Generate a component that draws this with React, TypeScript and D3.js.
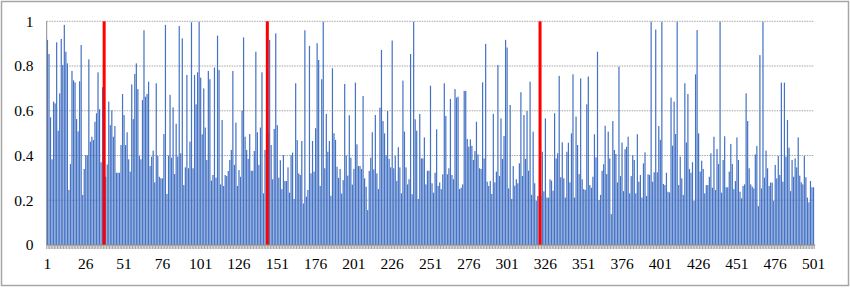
import React from "react";
import * as d3 from "d3";

const values: number[] = [
  0.917,0.854,0.571,0.383,0.641,0.633,0.906,0.511,0.678,0.921,
  0.805,0.984,0.864,0.812,0.246,0.362,0.778,0.736,0.727,0.563,
  0.508,0.732,0.894,0.224,0.340,0.402,0.400,0.830,0.462,0.484,
  0.469,0.551,0.589,0.772,0.607,0.370,0.705,0.700,0.305,0.360,
  0.641,0.536,0.602,0.484,0.532,0.323,0.323,0.323,0.447,0.675,
  0.581,0.447,0.504,0.383,0.328,0.718,0.563,0.765,0.812,0.697,
  0.398,0.383,0.648,0.960,0.663,0.675,0.730,0.353,0.395,0.422,
  0.280,0.723,0.398,0.305,0.298,0.298,0.496,0.984,0.228,0.400,
  0.671,0.390,0.615,0.317,0.542,0.395,0.979,0.410,0.924,0.268,
  0.347,0.760,0.343,0.462,0.996,0.343,0.760,0.629,0.772,0.998,
  0.748,0.495,0.700,0.525,0.380,0.778,0.741,0.288,0.313,0.793,
  0.301,0.936,0.782,0.271,0.559,0.264,0.313,0.308,0.331,0.380,
  0.425,0.778,0.358,0.547,0.264,0.335,0.305,0.600,0.928,0.484,
  0.425,0.385,0.496,0.332,0.332,0.420,0.864,0.504,0.358,0.525,
  0.772,0.231,0.425,0.500,0.500,0.917,0.447,0.294,0.519,0.946,
  0.536,0.301,0.379,0.250,0.402,0.286,0.286,0.347,0.234,0.402,
  0.413,0.206,0.723,0.469,0.320,0.313,0.465,0.186,0.960,0.216,
  0.246,0.890,0.320,0.465,0.328,0.522,0.902,0.827,0.264,0.741,
  0.998,0.343,0.586,0.417,0.465,0.220,0.790,0.500,0.470,0.350,
  0.300,0.340,0.230,0.290,0.720,0.400,0.310,0.580,0.390,0.270,
  0.340,0.726,0.450,0.353,0.353,0.340,0.666,0.298,0.260,0.156,
  0.331,0.390,0.504,0.338,0.581,0.320,0.250,0.614,0.872,0.554,
  0.499,0.402,0.599,0.385,0.347,0.914,0.343,0.398,0.286,0.437,
  0.347,0.231,0.735,0.507,0.347,0.271,0.294,0.854,0.227,0.998,
  0.562,0.511,0.206,0.586,0.387,0.387,0.481,0.271,0.332,0.332,
  0.712,0.276,0.234,0.323,0.517,0.264,0.280,0.250,0.316,0.723,
  0.577,0.316,0.343,0.653,0.313,0.294,0.697,0.659,0.663,0.250,
  0.256,0.271,0.689,0.689,0.474,0.440,0.472,0.443,0.380,0.420,
  0.551,0.405,0.343,0.340,0.727,0.387,0.899,0.283,0.264,0.286,
  0.228,0.586,0.280,0.328,0.805,0.308,0.566,0.385,0.487,0.917,
  0.883,0.253,0.626,0.206,0.353,0.265,0.294,0.276,0.365,0.683,
  0.308,0.581,0.385,0.599,0.332,0.730,0.224,0.507,0.276,0.198,
  0.219,0.220,0.220,0.417,0.240,0.566,0.212,0.212,0.294,0.288,
  0.243,0.589,0.387,0.410,0.756,0.303,0.459,0.298,0.212,0.417,
  0.457,0.280,0.499,0.763,0.212,0.574,0.447,0.317,0.745,0.294,
  0.250,0.246,0.629,0.753,0.268,0.256,0.305,0.495,0.392,0.864,
  0.201,0.224,0.332,0.361,0.533,0.317,0.507,0.387,0.138,0.554,
  0.425,0.407,0.280,0.797,0.308,0.458,0.241,0.428,0.439,0.484,
  0.231,0.308,0.402,0.380,0.231,0.495,0.283,0.313,0.212,0.365,
  0.414,0.219,0.316,0.313,0.998,0.283,0.325,0.963,0.325,0.532,
  0.470,0.998,0.273,0.268,0.323,0.238,0.235,0.659,0.444,0.641,
  0.496,0.998,0.268,0.395,0.298,0.224,0.723,0.458,0.675,0.340,
  0.323,0.370,0.198,0.763,0.961,0.499,0.328,0.377,0.340,0.231,
  0.268,0.268,0.305,0.410,0.256,0.484,0.246,0.429,0.362,0.998,
  0.234,0.380,0.486,0.258,0.258,0.328,0.452,0.362,0.250,0.286,
  0.481,0.380,0.238,0.209,0.264,0.271,0.678,0.554,0.343,0.271,
  0.261,0.253,0.405,0.443,0.174,0.849,0.253,0.998,0.301,0.422,
  0.343,0.264,0.279,0.279,0.198,0.358,0.298,0.398,0.313,0.726,
  0.283,0.726,0.395,0.559,0.435,0.241,0.380,0.305,0.387,0.347,
  0.481,0.310,0.280,0.271,0.398,0.303,0.212,0.191,0.286,0.258,
  0.258,
];

const categories: number[] = values.map((_, i) => i + 1);
const xTickLabels: number[] = [1, 26, 51, 76, 101, 126, 151, 176, 201, 226, 251, 276, 301, 326, 351, 376, 401, 426, 451, 476, 501];
const yTicks: number[] = [0, 0.2, 0.4, 0.6, 0.8, 1];
const gridTicks: number[] = [0.2, 0.4, 0.6, 0.8, 1];
const redMarkers: number[] = [38, 144.5, 322.5];

const W = 850;
const H = 288;
const left = 46.7;
const right = 814.3;
const top = 21.3;
const bottom = 245;

export default function App() {
  const x = d3.scaleBand<number>().domain(categories).range([left, right]).padding(0);
  const bw = x.bandwidth();
  const y = d3.scaleLinear().domain([0, 1]).range([bottom, top]);
  const catX = d3
    .scaleLinear()
    .domain([1, categories.length])
    .range([(x(1) as number) + bw / 2, (x(categories.length) as number) + bw / 2]);
  const barW = 1.2;
  const fmt = (v: number) => (v === 0 ? "0" : v === 1 ? "1" : String(v));

  return (
    <svg
      width={W}
      height={H}
      style={{ position: "fixed", left: 0, top: 0, background: "#fff" }}
      fontFamily="'Liberation Serif', 'Times New Roman', serif"
    >
      <rect x={1.5} y={1.5} width={847} height={284} fill="#fff" stroke="#a6a6a6" strokeWidth={1.5} />
      {gridTicks.map((t) => (
        <line
          key={"g" + t}
          x1={left}
          x2={right}
          y1={y(t)}
          y2={y(t)}
          stroke="#a6a6a6"
          strokeWidth={1}
          strokeDasharray="1.5 1"
        />
      ))}
      {values.map((v, i) => {
        const c = categories[i];
        const cx = (x(c) as number) + bw / 2;
        return (
          <rect key={"b" + i} x={cx - barW / 2} y={y(v)} width={barW} height={bottom - y(v)} fill="#4472C4" />
        );
      })}
      {redMarkers.map((m) => (
        <rect key={"r" + m} x={catX(m) - 1.5} y={y(1)} width={3} height={bottom - y(1)} fill="#ff0000" />
      ))}
      <line x1={left} x2={left} y1={top} y2={bottom} stroke="#8c8c8c" strokeWidth={1} />
      <line x1={left} x2={right + 1} y1={bottom} y2={bottom} stroke="#8c8c8c" strokeWidth={1} />
      {categories.concat([categories.length + 1]).map((c) => {
        const xx = left + (c - 1) * x.step();
        return <line key={"t" + c} x1={xx} x2={xx} y1={bottom} y2={bottom + 4} stroke="#8c8c8c" strokeWidth={0.8} />;
      })}
      {yTicks.map((t) => (
        <text key={"y" + t} x={33.5} y={y(t)} dy="0.35em" textAnchor="end" fontSize={15.5} fill="#000">
          {fmt(t)}
        </text>
      ))}
      {xTickLabels.map((c) => (
        <text
          key={"x" + c}
          x={(x(c) as number) + bw / 2}
          y={268.5}
          textAnchor="middle"
          fontSize={15.5}
          fill="#000"
        >
          {c}
        </text>
      ))}
    </svg>
  );
}
